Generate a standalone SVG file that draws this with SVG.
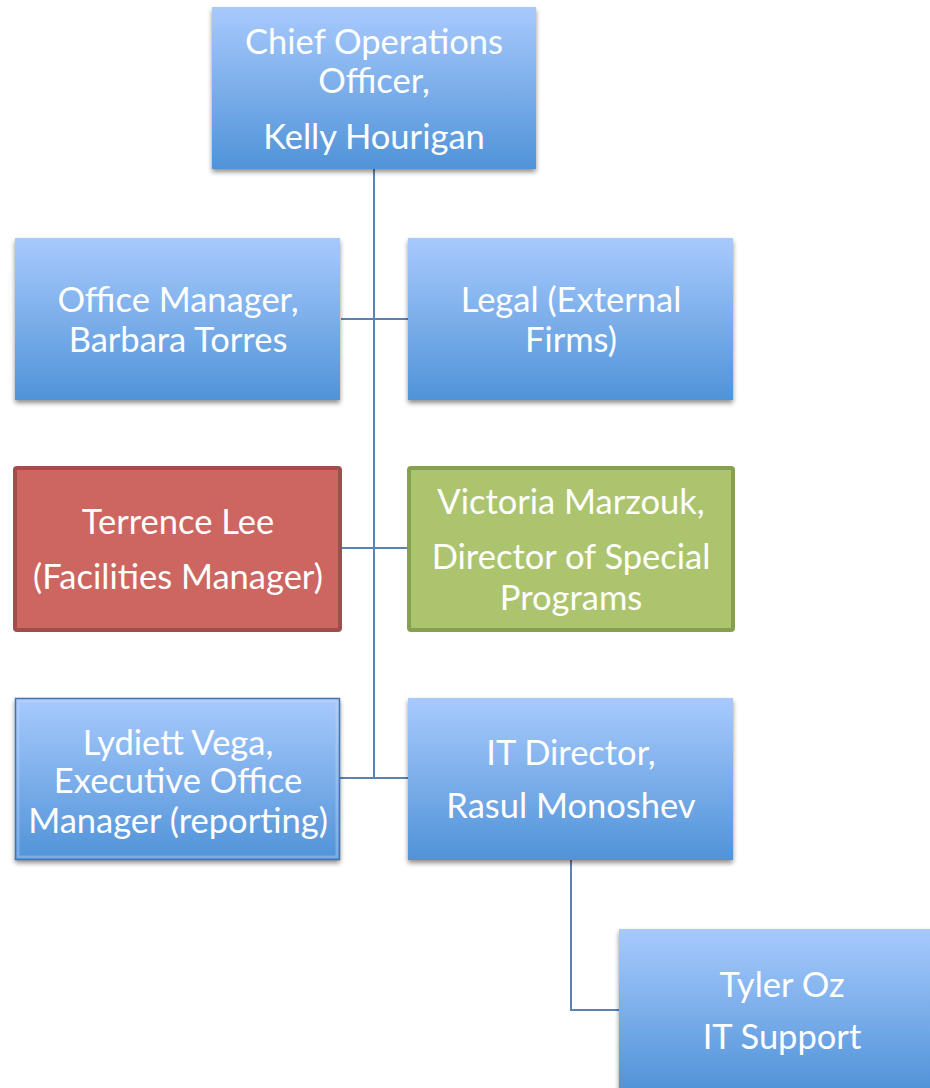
<svg xmlns="http://www.w3.org/2000/svg" width="930" height="1088" viewBox="0 0 930 1088">
<defs>
<linearGradient id="blue" x1="0" y1="0" x2="0" y2="1">
<stop offset="0" stop-color="#a8cafd"/>
<stop offset="1" stop-color="#5093d8"/>
</linearGradient>
<filter id="sh" x="-10%" y="-10%" width="120%" height="130%">
<feGaussianBlur in="SourceAlpha" stdDeviation="2.5"/>
<feOffset dx="0" dy="3" result="b"/>
<feComponentTransfer><feFuncA type="linear" slope="0.45"/></feComponentTransfer>
<feMerge><feMergeNode/><feMergeNode in="SourceGraphic"/></feMerge>
</filter>
</defs>
<style>
.box{fill:url(#blue);filter:url(#sh)}
.red{fill:#cd6660;stroke:#a04e4b;stroke-width:4}
.green{fill:#adc46e;stroke:#87a04f;stroke-width:4}
.bevel{fill:none;stroke:#4575ad;stroke-width:1.5}
.hl{fill:none;stroke:#c4dbff;stroke-width:3;opacity:0.35}
text{font-family:Lato,"Open Sans","Liberation Sans",sans-serif;font-size:34.5px;fill:#ffffff;text-anchor:middle}
.conn{fill:none;stroke:#5a82b4;stroke-width:2}
</style>
<g id="connectors">
<path class="conn" d="M374 169 V778"/>
<path class="conn" d="M341 319 H408"/>
<path class="conn" d="M342 548 H407"/>
<path class="conn" d="M340 778 H408"/>
<path class="conn" d="M571 860 V1010 H619"/>
</g>
<g id="coo">
<rect class="box" x="212" y="7" width="324" height="162"/>
<text x="374" y="54">Chief Operations</text>
<text x="374" y="93">Officer,</text>
<text x="374" y="149">Kelly Hourigan</text>
</g>
<g id="office-manager">
<rect class="box" x="15" y="238" width="325" height="162"/>
<text x="178" y="312">Office Manager,</text>
<text x="178" y="352">Barbara Torres</text>
</g>
<g id="legal">
<rect class="box" x="408" y="238" width="325" height="162"/>
<text x="571" y="312">Legal (External</text>
<text x="571" y="352">Firms)</text>
</g>
<g id="terrence">
<rect class="red" x="15" y="468" width="325" height="162" rx="2"/>
<text x="178" y="534">Terrence Lee</text>
<text x="178" y="589">(Facilities Manager)</text>
</g>
<g id="victoria">
<rect class="green" x="409" y="468" width="324" height="162" rx="2"/>
<text x="571" y="514">Victoria Marzouk,</text>
<text x="571" y="569">Director of Special</text>
<text x="571" y="610">Programs</text>
</g>
<g id="lydiett">
<rect class="box" x="15" y="698" width="325" height="162"/>
<rect class="hl" x="18" y="701" width="319" height="156"/>
<rect class="bevel" x="15.5" y="698.5" width="324" height="161"/>
<text x="178" y="755">Lydiett Vega,</text>
<text x="178" y="793">Executive Office</text>
<text x="178" y="833">Manager (reporting)</text>
</g>
<g id="it-director">
<rect class="box" x="408" y="698" width="325" height="162"/>
<text x="571" y="765">IT Director,</text>
<text x="571" y="818">Rasul Monoshev</text>
</g>
<g id="tyler">
<rect class="box" x="619" y="929" width="325" height="162"/>
<text x="782" y="997">Tyler Oz</text>
<text x="782" y="1049">IT Support</text>
</g>
</svg>
